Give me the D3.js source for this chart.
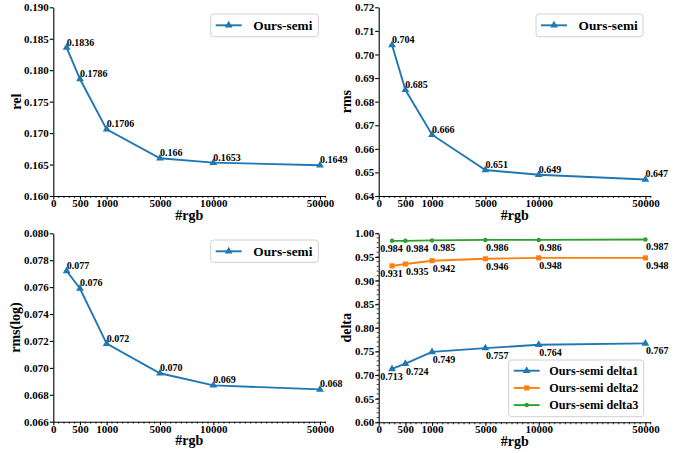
<!DOCTYPE html>
<html>
<head>
<meta charset="utf-8">
<script src="https://cdn.jsdelivr.net/npm/d3@7"></script>
<style>
  html, body { margin: 0; padding: 0; background: #fff; }
  svg { display: block; overflow: visible; }
  text { font-family: "Liberation Serif", "Times New Roman", serif; font-weight: bold; fill: #000; }
</style>
</head>
<body>
<svg id="chart" width="674" height="453"></svg>
<script>
// x slots (evenly spaced index positions) and their tick labels
const xTickSlots = [0, 1, 2, 4, 6, 10];
const xTickLabels = ["0", "500", "1000", "5000", "10000", "50000"];
const pointSlots = [0.5, 1, 2, 4, 6, 10];

// metric values per sample count
const relValues = [0.1836, 0.1786, 0.1706, 0.1660, 0.1653, 0.1649];
const rmsValues = [0.704, 0.685, 0.666, 0.651, 0.649, 0.647];
const rmsLogValues = [0.0772, 0.0759, 0.0718, 0.0696, 0.0687, 0.0684];
const delta1Values = [0.713, 0.724, 0.749, 0.757, 0.764, 0.767];
const delta2Values = [0.931, 0.935, 0.942, 0.946, 0.948, 0.948];
const delta3Values = [0.984, 0.984, 0.985, 0.986, 0.986, 0.987];

const C_BLUE = "#1f77b4", C_ORANGE = "#ff7f0e", C_GREEN = "#2ca02c";
const UNIT = 26.67;      // pixels per x slot
const X_MAX = 10.2;
const TICK_FONT = "11px";
const TITLE_FONT = "14px";

const svg = d3.select("#chart");

function markerPath(kind) {
  if (kind === "tri") return d3.symbol(d3.symbolTriangle, 26)();
  if (kind === "sq") return d3.symbol(d3.symbolSquare, 26)();
  return d3.symbol(d3.symbolCircle, 16)();
}

function drawPanel(p) {
  const g = svg.append("g");
  const x = d3.scaleLinear().domain([0, X_MAX]).range([p.left, p.left + X_MAX * UNIT]);
  const y = d3.scaleLinear().domain(p.yDomain).range([p.bottom, p.top]);

  // minor x ticks
  g.append("g").selectAll("line")
    .data(d3.range(0, X_MAX + 1e-9, 0.2).filter(v => !xTickSlots.some(t => Math.abs(t - v) < 1e-6)))
    .join("line")
    .attr("x1", d => x(d)).attr("x2", d => x(d))
    .attr("y1", p.bottom).attr("y2", p.bottom + 2)
    .attr("stroke", "#000").attr("stroke-width", 0.8);

  if (p.yMinor) {
    g.append("g").selectAll("line")
      .data(d3.range(p.yDomain[0], p.yDomain[1] + 1e-9, p.yMinor))
      .join("line")
      .attr("x1", p.left).attr("x2", p.left - 2)
      .attr("y1", d => y(d)).attr("y2", d => y(d))
      .attr("stroke", "#000").attr("stroke-width", 0.8);
  }

  // x axis
  const xa = g.append("g").attr("transform", `translate(0,${p.bottom})`)
    .call(d3.axisBottom(x).tickValues(xTickSlots)
      .tickFormat((d, i) => xTickLabels[i]).tickSize(3.5).tickSizeOuter(0));
  xa.select(".domain").attr("stroke-width", 1.1);
  xa.selectAll(".tick line").attr("stroke-width", 1.1);
  xa.selectAll(".tick text").attr("y", 11).attr("dy", 0)
    .style("font-size", TICK_FONT).style("font-family", "Liberation Serif").style("font-weight", "bold");

  // y axis
  const ya = g.append("g").attr("transform", `translate(${p.left},0)`)
    .call(d3.axisLeft(y).ticks(p.yTicks).tickFormat(d3.format(p.yFormat))
      .tickSize(3.5).tickPadding(1).tickSizeOuter(0));
  ya.select(".domain").attr("stroke-width", 1.1);
  ya.selectAll(".tick line").attr("stroke-width", 1.1);
  ya.selectAll(".tick text")
    .style("font-size", TICK_FONT).style("font-family", "Liberation Serif").style("font-weight", "bold");

  // axis titles
  g.append("text").attr("x", (p.left + x(X_MAX)) / 2).attr("y", p.bottom + 23.5)
    .attr("text-anchor", "middle").style("font-size", TITLE_FONT).text("#rgb");
  g.append("text")
    .attr("transform", `translate(${p.yLabelX},${(p.top + p.bottom) / 2}) rotate(-90)`)
    .attr("text-anchor", "middle").style("font-size", TITLE_FONT).text(p.yLabel);

  // series
  p.series.forEach(s => {
    const pts = s.values.map((v, i) => [x(pointSlots[i]), y(v)]);
    g.append("path").attr("d", d3.line()(pts))
      .attr("fill", "none").attr("stroke", s.color).attr("stroke-width", 1.9);
    g.append("g").selectAll("path").data(pts).join("path")
      .attr("transform", d => `translate(${d[0]},${d[1]})`)
      .attr("d", markerPath(s.marker)).attr("fill", s.color);
    // value labels: above-right of points, or below for the delta panel
    g.append("g").selectAll("text").data(s.values).join("text")
      .attr("x", (d, i) => x(pointSlots[i]) + (p.labelBelow ? (i === 0 ? -11.7 : 0.6) : 0))
      .attr("y", d => y(d) + (p.labelBelow ? 11 : -2))
      .attr("text-anchor", "start")
      .style("font-size", "10px")
      .text(d => d3.format(s.fmt)(d));
  });

  // legend
  const L = p.legend;
  const lg = g.append("g");
  lg.append("rect").attr("x", L.x).attr("y", L.y).attr("width", L.w).attr("height", L.h)
    .attr("rx", 3).attr("fill", "#fff").attr("fill-opacity", 0.8)
    .attr("stroke", "#d0d0d0").attr("stroke-width", 1);
  p.series.forEach((s, i) => {
    const cy = L.y + L.firstRow + i * L.rowStep;
    const sx = L.x + 5;
    lg.append("line").attr("x1", sx).attr("x2", sx + 26).attr("y1", cy).attr("y2", cy)
      .attr("stroke", s.color).attr("stroke-width", 1.9);
    lg.append("path").attr("transform", `translate(${sx + 13},${cy})`)
      .attr("d", markerPath(s.marker)).attr("fill", s.color);
    lg.append("text").attr("x", L.x + L.textDx).attr("y", cy + L.fontSize * 0.34)
      .style("font-size", L.fontSize + "px").text(s.name);
  });
}

drawPanel({
  left: 53.3, top: 7.3, bottom: 196, yDomain: [0.16, 0.19], yTicks: 6, yFormat: ".3f",
  yLabel: "rel", yLabelX: 20.5,
  series: [{ name: "Ours-semi", values: relValues, color: C_BLUE, marker: "tri", fmt: ".4~f" }],
  legend: { x: 210.7, y: 14, w: 107.6, h: 22.7, firstRow: 11.3, rowStep: 0, textDx: 42.6, fontSize: 13.3 }
});

drawPanel({
  left: 378.7, top: 7.3, bottom: 196, yDomain: [0.64, 0.72], yTicks: 8, yFormat: ".2f",
  yLabel: "rms", yLabelX: 350.5,
  series: [{ name: "Ours-semi", values: rmsValues, color: C_BLUE, marker: "tri", fmt: ".3f" }],
  legend: { x: 536, y: 14, w: 107, h: 22.7, firstRow: 11.3, rowStep: 0, textDx: 42.6, fontSize: 13.3 }
});

drawPanel({
  left: 53.3, top: 233.3, bottom: 421.7, yDomain: [0.066, 0.080], yTicks: 7, yFormat: ".3f",
  yLabel: "rms(log)", yLabelX: 19.5,
  series: [{ name: "Ours-semi", values: rmsLogValues, color: C_BLUE, marker: "tri", fmt: ".3f" }],
  legend: { x: 210.7, y: 240, w: 107.6, h: 22.3, firstRow: 11.3, rowStep: 0, textDx: 42.6, fontSize: 13.3 }
});

drawPanel({
  left: 378.7, top: 233.3, bottom: 422.3, yDomain: [0.6, 1.0], yTicks: 8, yFormat: ".2f",
  yLabel: "delta", yLabelX: 350.5, yMinor: 0.01, labelBelow: true,
  series: [
    { name: "Ours-semi delta1", values: delta1Values, color: C_BLUE, marker: "tri", fmt: ".3f" },
    { name: "Ours-semi delta2", values: delta2Values, color: C_ORANGE, marker: "sq", fmt: ".3f" },
    { name: "Ours-semi delta3", values: delta3Values, color: C_GREEN, marker: "dot", fmt: ".3f" }
  ],
  legend: { x: 508.7, y: 360, w: 135, h: 56.7, firstRow: 10.7, rowStep: 17.2, textDx: 40.6, fontSize: 12.2 }
});
</script>
</body>
</html>
